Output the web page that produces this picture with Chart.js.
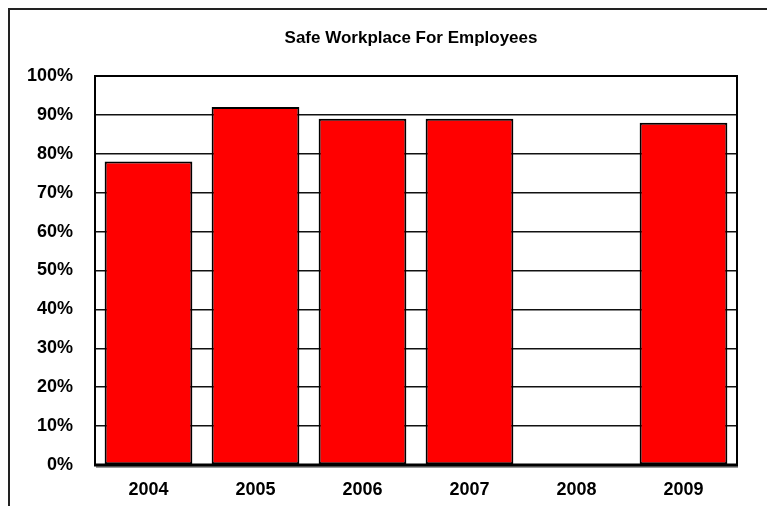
<!DOCTYPE html>
<html>
<head>
<meta charset="utf-8">
<script src="https://cdn.jsdelivr.net/npm/chart.js@4"></script>
<style>
  body { margin: 0; background: #fff; }
  #wrap { width: 767px; height: 506px; }
</style>
</head>
<body>
<div id="wrap"><canvas id="myChart" width="767" height="506"></canvas></div>
<script>
// data
const years = ['2004', '2005', '2006', '2007', '2008', '2009'];
const safePct = [78, 92, 89, 89, 0, 88];
const yTicks = [0, 10, 20, 30, 40, 50, 60, 70, 80, 90, 100];
const chartTitle = 'Safe Workplace For Employees';

const FONT = "'Liberation Sans', Arial, sans-serif";

// white page, outer frame (left + top edge only), title
const frame = {
  id: 'frame',
  beforeDraw(chart) {
    const c = chart.ctx;
    const a = chart.chartArea;
    c.save();
    c.fillStyle = '#fff';
    c.fillRect(0, 0, chart.width, chart.height);
    c.strokeStyle = '#222';
    c.lineWidth = 2;
    c.beginPath();
    c.moveTo(9, chart.height);
    c.lineTo(9, 9);
    c.lineTo(chart.width, 9);
    c.stroke();
    // title sits a bit left of the plot centre, like the original
    c.fillStyle = '#000';
    c.font = 'bold 17px ' + FONT;
    c.textAlign = 'center';
    c.textBaseline = 'middle';
    c.fillText(chartTitle, (a.left + a.right) / 2 - 5, 38);
    c.restore();
  },
  afterDatasetsDraw(chart) {
    const a = chart.chartArea;
    const c = chart.ctx;
    c.save();
    c.strokeStyle = '#000';
    c.lineWidth = 2;
    c.beginPath();
    c.moveTo(a.left, a.bottom);
    c.lineTo(a.left, a.top);
    c.lineTo(a.right, a.top);
    c.lineTo(a.right, a.bottom);
    c.stroke();
    // thick bottom axis with a grey shadow
    c.strokeStyle = '#999';
    c.lineWidth = 2;
    c.beginPath();
    c.moveTo(a.left + 1, a.bottom + 2);
    c.lineTo(a.right + 1, a.bottom + 2);
    c.stroke();
    c.strokeStyle = '#000';
    c.lineWidth = 3;
    c.beginPath();
    c.moveTo(a.left - 1, a.bottom);
    c.lineTo(a.right + 1, a.bottom);
    c.stroke();
    c.restore();
  }
};

const ctx = document.getElementById('myChart');

const myChart = new Chart(ctx, {
  type: 'bar',
  data: {
    labels: years,
    datasets: [{
      label: chartTitle,
      data: safePct,
      backgroundColor: '#ff0000',
      borderColor: '#000',
      borderWidth: 2,
      borderSkipped: false,
      categoryPercentage: 1,
      barPercentage: 0.82
    }]
  },
  options: {
    responsive: false,
    animation: false,
    layout: { padding: { left: 0, right: 30, top: 76, bottom: 0 } },
    plugins: {
      legend: { display: false },
      tooltip: { enabled: false },
      title: { display: false }
    },
    scales: {
      x: {
        grid: { display: false, drawTicks: false },
        border: { display: false },
        ticks: {
          color: '#000',
          font: { family: FONT, size: 18, weight: 'bold' },
          padding: 14,
          maxRotation: 0
        },
        afterFit(s) { s.height = 41; }
      },
      y: {
        min: 0,
        max: 100,
        afterBuildTicks(s) { s.ticks = yTicks.map(v => ({ value: v })); },
        grid: { color: '#111', lineWidth: 1.5, drawTicks: false },
        border: { display: false },
        ticks: {
          color: '#000',
          font: { family: FONT, size: 18, weight: 'bold' },
          padding: 22,
          callback: v => v + '%'
        },
        afterFit(s) { s.width = 95; }
      }
    }
  },
  plugins: [frame]
});
</script>
</body>
</html>
